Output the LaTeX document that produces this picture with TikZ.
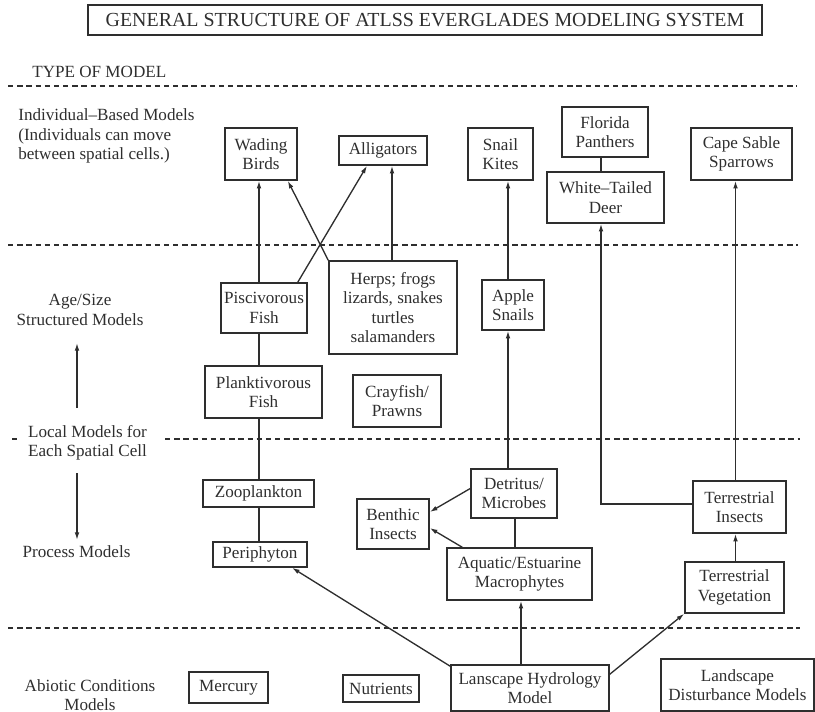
\documentclass[tikz,border=0pt]{standalone}
\usepackage{fontspec}
\setmainfont{Liberation Serif}
\usetikzlibrary{arrows.meta,calc}

\definecolor{ink}{gray}{0.18}

\tikzset{
  box/.style={draw=ink, line width=0.9bp, inner sep=1bp, align=center,
              font=\fontsize{10.3}{11.8}\selectfont, text=ink},
  lbl/.style={inner sep=0pt, align=center,
              font=\fontsize{10.3}{11.6}\selectfont, text=ink},
  link/.style={draw=ink, line width=0.8bp},
  arr/.style={link, -{Latex[length=4.6bp,width=2.8bp]}},
  sep/.style={draw=ink, line width=0.8bp, dash pattern=on 3.2bp off 2.3bp},
}

\begin{document}
\begin{tikzpicture}[x=0.6bp, y=-0.6bp]
\useasboundingbox (0,0) rectangle (815,712);

% title
\node[box, font=\fontsize{12}{14}\selectfont, minimum width=404.4bp, minimum height=18bp]
  (title) at (425,20) {GENERAL STRUCTURE OF ATLSS EVERGLADES MODELING SYSTEM};

% model-type labels on the left
\node[lbl, anchor=west] (typehdr) at (32,72) {TYPE OF MODEL};
\node[lbl, anchor=west, align=left] (ibm) at (18,136)
  {Individual--Based Models\\(Individuals can move\\between spatial cells.)};
\node[lbl] (agesize) at (80,310) {Age/Size\\Structured Models};
\node[lbl] (local) at (87.5,443) {Local Models for\\Each Spatial Cell};
\node[lbl] (process) at (76.5,552) {Process Models};
\node[lbl] (abiotic) at (90,695) {Abiotic Conditions\\Models};

% separators between model types
\draw[sep] (8,86) -- (797,86);
\draw[sep] (8,245) -- (798,245);
\draw[link] (12,439) -- (17,439);
\draw[sep] (165,439) -- (800,439);
\draw[sep] (8,628) -- (800,628);

% scale arrows beside the labels
\coordinate (upA) at (77,408);
\coordinate (upB) at (77,343);
\coordinate (dnA) at (77,473);
\coordinate (dnB) at (77,540);
\draw[arr] (upA) -- (upB);
\draw[arr] (dnA) -- (dnB);

% individual-based models
\node[box, minimum width=43.2bp, minimum height=31.2bp] (wading) at (261,154) {Wading\\Birds};
\node[box, minimum width=52.8bp, minimum height=17.4bp] (gator) at (383,150.5) {Alligators};
\node[box, minimum width=39bp, minimum height=31.2bp] (kites) at (500.5,154) {Snail\\Kites};
\node[box, minimum width=51.6bp, minimum height=30bp] (panther) at (605,132) {Florida\\Panthers};
\node[box, minimum width=70.2bp, minimum height=30.6bp] (deer) at (605.5,197.5) {White--Tailed\\Deer};
\node[box, minimum width=60.6bp, minimum height=31.2bp] (sparrow) at (741.5,154) {Cape Sable\\Sparrows};

% age/size structured models
\node[box, minimum width=51.6bp, minimum height=30bp] (pisc) at (264,308) {Piscivorous\\Fish};
\node[box, minimum width=76.8bp, minimum height=55.8bp] (herps) at (393,307.5)
  {Herps; frogs\\lizards, snakes\\turtles\\salamanders};
\node[box, minimum width=37.2bp, minimum height=30bp] (apple) at (513,305) {Apple\\Snails};
\node[box, minimum width=70.2bp, minimum height=31.2bp] (plank) at (263.5,392) {Planktivorous\\Fish};
\node[box, minimum width=52.8bp, minimum height=31.2bp] (cray) at (397,401) {Crayfish/\\Prawns};

% process models
\node[box, minimum width=66.6bp, minimum height=16.2bp] (zoo) at (258.5,493.5) {Zooplankton};
\node[box, minimum width=43.2bp, minimum height=30bp] (benthic) at (393,524) {Benthic\\Insects};
\node[box, minimum width=51.6bp, minimum height=29.4bp] (detritus) at (514,493.5) {Detritus/\\Microbes};
\node[box, minimum width=55.8bp, minimum height=31.2bp] (tins) at (739.5,507) {Terrestrial\\Insects};
\node[box, minimum width=56.4bp, minimum height=15bp] (peri) at (260,554.5) {Periphyton};
\node[box, minimum width=87bp, minimum height=31.2bp] (aquatic) at (519.5,574) {Aquatic/Estuarine\\Macrophytes};
\node[box, minimum width=59.4bp, minimum height=30.6bp] (tveg) at (734.5,587.5) {Terrestrial\\Vegetation};

% abiotic conditions models
\node[box, minimum width=47.4bp, minimum height=18.6bp] (mercury) at (228.5,687.5) {Mercury};
\node[box, minimum width=45.6bp, minimum height=16.2bp] (nutr) at (381,688.5) {Nutrients};
\node[box, minimum width=94.8bp, minimum height=27.6bp] (hydro) at (530,688) {Lanscape Hydrology\\Model};
\node[box, minimum width=91.8bp, minimum height=31.2bp] (disturb) at (737.5,685) {Landscape\\Disturbance Models};

% aquatic food chain column
\coordinate (colF) at (259,0);
\draw[arr] (pisc.north -| colF) -- (wading.south -| colF);
\draw[link] (plank.north -| colF) -- (pisc.south -| colF);
\draw[link] (zoo.north -| colF) -- (plank.south -| colF);
\draw[link] (peri.north -| colF) -- (zoo.south -| colF);

% crossing links into the birds and alligators
\draw[arr] (herps.north west) -- ($(wading.south east)+(-10,0)$);
\draw[arr] ($(pisc.north east)+(-10,0)$) -- ($(gator.south)+(-16,0)$);
\coordinate (colH) at (392,0);
\draw[arr] (herps.north -| colH) -- (gator.south -| colH);

% snail column
\coordinate (colS) at (508,0);
\draw[arr] (apple.north -| colS) -- (kites.south -| colS);
\draw[arr] (detritus.north -| colS) -- (apple.south -| colS);
\coordinate (colD) at (515,0);
\draw[link] (aquatic.north -| colD) -- (detritus.south -| colD);
\draw[arr] ($(detritus.west)+(0,-5)$) -- ($(benthic.east)+(0,-12)$);
\draw[arr] ($(aquatic.north west)+(16,0)$) -- ($(benthic.east)+(0,4)$);

% panther and deer
\coordinate (colP) at (601,0);
\draw[link] (deer.north -| colP) -- (panther.south -| colP);
\draw[arr] ($(tins.west)+(0,-3)$) -| (deer.south -| colP);

% terrestrial column
\coordinate (colT) at (735.5,0);
\draw[arr] (tins.north -| colT) -- (sparrow.south -| colT);
\draw[arr] (tveg.north -| colT) -- (tins.south -| colT);

% hydrology drives the process models
\coordinate (colL) at (521,0);
\draw[arr] (hydro.north -| colL) -- (aquatic.south -| colL);
\draw[arr] ($(hydro.north east)+(0,10)$) -- (tveg.south west);
\draw[arr] ($(hydro.north west)+(0,2)$) -- ($(peri.south)+(32,0)$);

\end{tikzpicture}
\end{document}
